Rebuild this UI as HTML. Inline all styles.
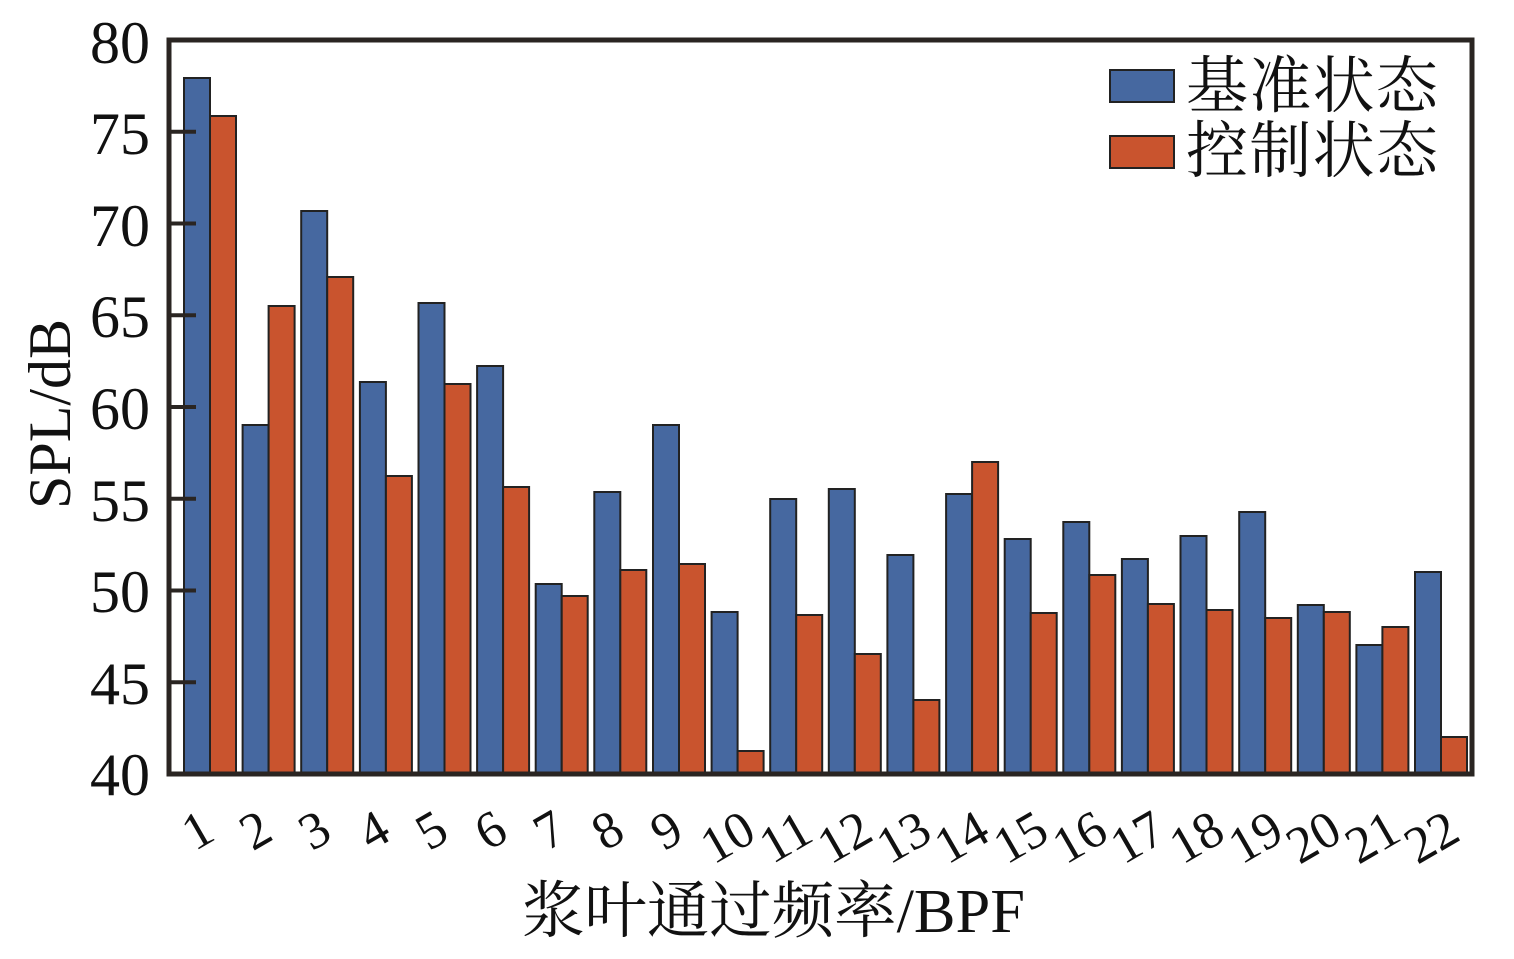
<!DOCTYPE html>
<html><head><meta charset="utf-8"><style>
html,body{margin:0;padding:0;background:#fff;}
svg{display:block;}
text{font-family:"Liberation Serif","Noto Serif CJK SC",serif;fill:#111;}
.b{fill:#4668a0;stroke:#222;stroke-width:2;}
.o{fill:#c9542e;stroke:#222;stroke-width:2;}
</style></head><body>
<svg width="1514" height="959" viewBox="0 0 1514 959" xmlns="http://www.w3.org/2000/svg">
<g>
<rect class="b" x="184" y="78" width="26" height="696"/><rect class="o" x="210" y="116" width="26" height="658"/>
<rect class="b" x="242.6" y="425" width="26" height="349"/><rect class="o" x="268.6" y="306" width="26" height="468"/>
<rect class="b" x="301.2" y="211" width="26" height="563"/><rect class="o" x="327.2" y="277" width="26" height="497"/>
<rect class="b" x="359.9" y="382" width="26" height="392"/><rect class="o" x="385.9" y="476" width="26" height="298"/>
<rect class="b" x="418.5" y="303" width="26" height="471"/><rect class="o" x="444.5" y="384" width="26" height="390"/>
<rect class="b" x="477.1" y="366" width="26" height="408"/><rect class="o" x="503.1" y="487" width="26" height="287"/>
<rect class="b" x="535.7" y="584" width="26" height="190"/><rect class="o" x="561.7" y="596" width="26" height="178"/>
<rect class="b" x="594.3" y="492" width="26" height="282"/><rect class="o" x="620.3" y="570" width="26" height="204"/>
<rect class="b" x="653" y="425" width="26" height="349"/><rect class="o" x="679" y="564" width="26" height="210"/>
<rect class="b" x="711.6" y="612" width="26" height="162"/><rect class="o" x="737.6" y="751" width="26" height="23"/>
<rect class="b" x="770.2" y="499" width="26" height="275"/><rect class="o" x="796.2" y="615" width="26" height="159"/>
<rect class="b" x="828.8" y="489" width="26" height="285"/><rect class="o" x="854.8" y="654" width="26" height="120"/>
<rect class="b" x="887.4" y="555" width="26" height="219"/><rect class="o" x="913.4" y="700" width="26" height="74"/>
<rect class="b" x="946.1" y="494" width="26" height="280"/><rect class="o" x="972.1" y="462" width="26" height="312"/>
<rect class="b" x="1004.7" y="539" width="26" height="235"/><rect class="o" x="1030.7" y="613" width="26" height="161"/>
<rect class="b" x="1063.3" y="522" width="26" height="252"/><rect class="o" x="1089.3" y="575" width="26" height="199"/>
<rect class="b" x="1121.9" y="559" width="26" height="215"/><rect class="o" x="1147.9" y="604" width="26" height="170"/>
<rect class="b" x="1180.5" y="536" width="26" height="238"/><rect class="o" x="1206.5" y="610" width="26" height="164"/>
<rect class="b" x="1239.2" y="512" width="26" height="262"/><rect class="o" x="1265.2" y="618" width="26" height="156"/>
<rect class="b" x="1297.8" y="605" width="26" height="169"/><rect class="o" x="1323.8" y="612" width="26" height="162"/>
<rect class="b" x="1356.4" y="645" width="26" height="129"/><rect class="o" x="1382.4" y="627" width="26" height="147"/>
<rect class="b" x="1415" y="572" width="26" height="202"/><rect class="o" x="1441" y="737" width="26" height="37"/>
</g>
<g stroke="#2a2522" stroke-width="4">
<line x1="169" y1="131.8" x2="196" y2="131.8"/>
<line x1="169" y1="223.5" x2="196" y2="223.5"/>
<line x1="169" y1="315.3" x2="196" y2="315.3"/>
<line x1="169" y1="407" x2="196" y2="407"/>
<line x1="169" y1="498.8" x2="196" y2="498.8"/>
<line x1="169" y1="590.5" x2="196" y2="590.5"/>
<line x1="169" y1="682.3" x2="196" y2="682.3"/>
</g>
<rect x="169" y="40" width="1303" height="734" fill="none" stroke="#2a2522" stroke-width="5"/>
<g font-size="60" text-anchor="end">
<text x="150" y="63">80</text>
<text x="150" y="154">75</text>
<text x="150" y="246">70</text>
<text x="150" y="337">65</text>
<text x="150" y="429">60</text>
<text x="150" y="521">55</text>
<text x="150" y="612">50</text>
<text x="150" y="704">45</text>
<text x="150" y="795">40</text>
</g>
<text font-size="60" transform="translate(70,414) rotate(-90)" text-anchor="middle">SPL/dB</text>
<g font-size="52" text-anchor="middle">
<text transform="translate(206,845) rotate(-30)">1</text>
<text transform="translate(264,845) rotate(-30)">2</text>
<text transform="translate(323,845) rotate(-30)">3</text>
<text transform="translate(382,845) rotate(-30)">4</text>
<text transform="translate(440,845) rotate(-30)">5</text>
<text transform="translate(499,845) rotate(-30)">6</text>
<text transform="translate(558,845) rotate(-30)">7</text>
<text transform="translate(616,845) rotate(-30)">8</text>
<text transform="translate(675,845) rotate(-30)">9</text>
<text transform="translate(736,852) rotate(-30)">10</text>
<text transform="translate(794,852) rotate(-30)">11</text>
<text transform="translate(853,852) rotate(-30)">12</text>
<text transform="translate(912,852) rotate(-30)">13</text>
<text transform="translate(970,852) rotate(-30)">14</text>
<text transform="translate(1029,852) rotate(-30)">15</text>
<text transform="translate(1088,852) rotate(-30)">16</text>
<text transform="translate(1146,852) rotate(-30)">17</text>
<text transform="translate(1205,852) rotate(-30)">18</text>
<text transform="translate(1264,852) rotate(-30)">19</text>
<text transform="translate(1322,852) rotate(-30)">20</text>
<text transform="translate(1381,852) rotate(-30)">21</text>
<text transform="translate(1440,852) rotate(-30)">22</text>
</g>
<text x="522" y="932" font-size="62" textLength="503" lengthAdjust="spacingAndGlyphs">浆叶通过频率/BPF</text>
<rect x="1110" y="70" width="64" height="32" class="b"/>
<rect x="1110" y="136" width="64" height="32" class="o"/>
<text x="1186" y="107" font-size="62" textLength="252">基准状态</text>
<text x="1186" y="172" font-size="62" textLength="252">控制状态</text>
</svg>
</body></html>
